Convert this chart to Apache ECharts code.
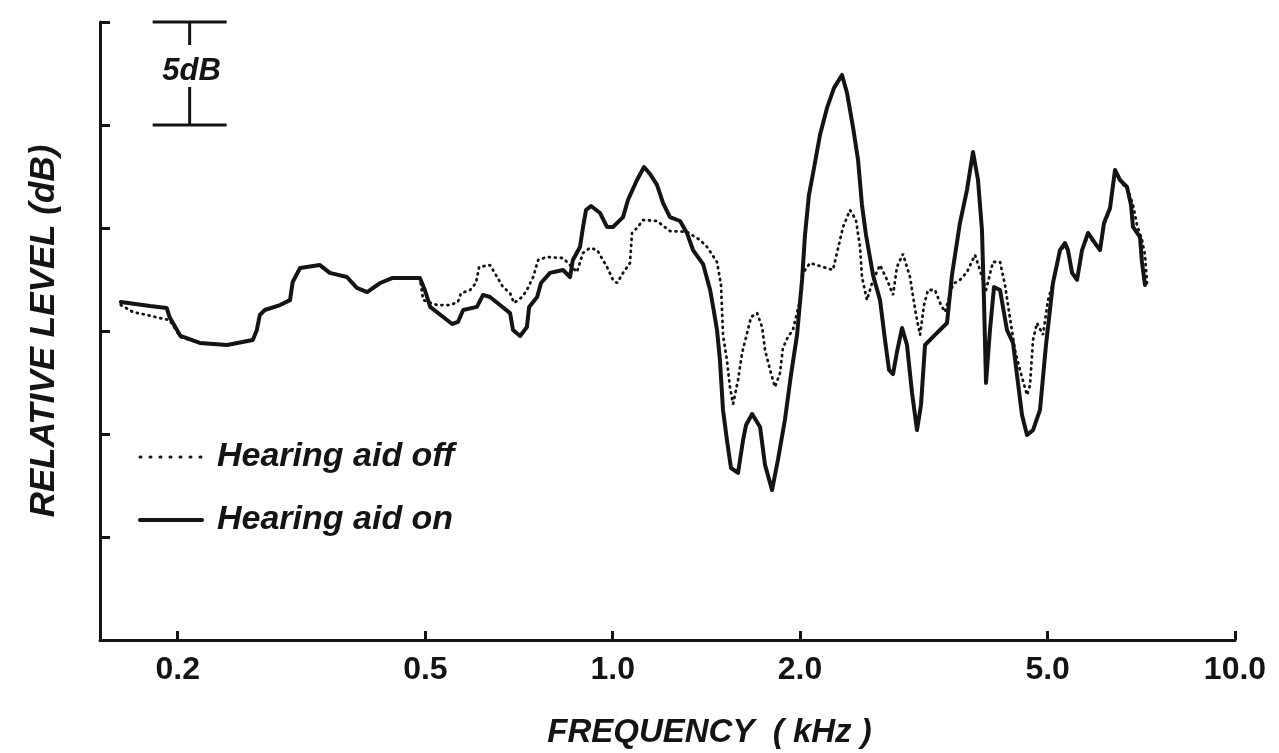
<!DOCTYPE html>
<html>
<head>
<meta charset="utf-8">
<script src="https://cdn.jsdelivr.net/npm/echarts@6/dist/echarts.min.js"></script>
<style>
  html, body { margin: 0; padding: 0; background: #fff; }
  #chart { width: 1279px; height: 753px; }
</style>
</head>
<body>
<div id="chart"></div>
<script>
// Frequency axis ticks (kHz) and their printed labels
const freqTicks = [0.2, 0.5, 1, 2, 5, 10];
const freqTickLabels = ['0.2', '0.5', '1.0', '2.0', '5.0', '10.0'];

// Relative level (dB) vs frequency (kHz), hearing aid switched off
const aidOff = [
  [0.162, 16.26], [0.1695, 15.92], [0.1785, 15.78], [0.187, 15.63], [0.194, 15.53],
  [0.202, 14.71], [0.217, 14.42], [0.240, 14.32], [0.264, 14.56], [0.268, 15.05],
  [0.271, 15.78], [0.276, 16.02], [0.292, 16.26], [0.303, 16.50], [0.306, 17.38],
  [0.3145, 18.06], [0.3385, 18.20], [0.351, 17.82], [0.374, 17.62], [0.388, 17.09],
  [0.403, 16.89], [0.423, 17.33], [0.442, 17.57], [0.490, 17.57], [0.496, 16.50],
  [0.522, 16.26], [0.548, 16.26], [0.564, 16.41], [0.5705, 16.84], [0.590, 16.99],
  [0.603, 17.33], [0.610, 18.11], [0.635, 18.20], [0.652, 17.62], [0.666, 17.14],
  [0.684, 16.84], [0.694, 16.36], [0.715, 16.65], [0.728, 16.99], [0.745, 17.62],
  [0.759, 18.45], [0.784, 18.59], [0.832, 18.54], [0.848, 18.30], [0.876, 17.86],
  [0.896, 18.79], [0.919, 19.03], [0.944, 18.93], [0.979, 18.11], [1.001, 17.48],
  [1.016, 17.33], [1.039, 17.82], [1.066, 18.30], [1.074, 19.76], [1.094, 20.00],
  [1.119, 20.39], [1.178, 20.34], [1.236, 19.85], [1.316, 19.81], [1.381, 19.42],
  [1.418, 19.08], [1.471, 18.35], [1.493, 17.23], [1.504, 14.81], [1.526, 13.59],
  [1.543, 12.28], [1.561, 11.46], [1.590, 12.62], [1.614, 13.93], [1.644, 14.90],
  [1.669, 15.68], [1.706, 15.87], [1.738, 15.19], [1.757, 14.08], [1.790, 13.11],
  [1.823, 12.28], [1.857, 12.96], [1.877, 14.17], [1.912, 14.71], [1.948, 15.05],
  [2.000, 16.50], [2.022, 17.82], [2.075, 18.30], [2.177, 18.11], [2.259, 17.96],
  [2.293, 18.79], [2.345, 20.05], [2.406, 20.87], [2.460, 20.39], [2.497, 19.08],
  [2.515, 17.62], [2.562, 16.50], [2.620, 17.48], [2.689, 18.20], [2.760, 17.48],
  [2.821, 16.75], [2.863, 18.11], [2.927, 18.74], [3.004, 17.62], [3.072, 15.78],
  [3.118, 14.81], [3.164, 16.26], [3.211, 16.99], [3.295, 16.99], [3.369, 16.26],
  [3.420, 15.92], [3.522, 17.28], [3.614, 17.48], [3.709, 17.86], [3.821, 18.69],
  [3.892, 17.96], [3.980, 16.99], [4.084, 18.35], [4.192, 18.35], [4.270, 17.23],
  [4.349, 15.63], [4.430, 14.08], [4.513, 13.11], [4.632, 11.89], [4.684, 12.38],
  [4.736, 14.56], [4.806, 15.39], [4.914, 14.81], [5.006, 16.50], [5.099, 17.33],
  [5.233, 18.83], [5.331, 19.17], [5.390, 18.83], [5.472, 17.86], [5.574, 17.57],
  [5.678, 18.93], [5.806, 19.66], [5.957, 19.22], [6.069, 18.93], [6.159, 20.15],
  [6.297, 20.87], [6.415, 22.72], [6.558, 22.23], [6.731, 21.84], [6.856, 21.12],
  [6.958, 20.15], [7.088, 19.42], [7.167, 18.69], [7.221, 17.33]
];

// Relative level (dB) vs frequency (kHz), hearing aid switched on
const aidOn = [
  [0.162, 16.41], [0.171, 16.31], [0.1805, 16.21], [0.192, 16.12], [0.194, 15.68],
  [0.202, 14.76], [0.217, 14.42], [0.240, 14.32], [0.264, 14.56], [0.268, 15.05],
  [0.271, 15.78], [0.276, 16.02], [0.292, 16.26], [0.303, 16.50], [0.306, 17.38],
  [0.3145, 18.06], [0.3385, 18.20], [0.351, 17.82], [0.374, 17.62], [0.388, 17.09],
  [0.403, 16.89], [0.423, 17.33], [0.442, 17.57], [0.490, 17.57], [0.499, 16.99],
  [0.509, 16.17], [0.534, 15.68], [0.552, 15.34], [0.564, 15.44], [0.575, 16.02],
  [0.605, 16.17], [0.619, 16.75], [0.635, 16.65], [0.659, 16.26], [0.684, 15.87],
  [0.6915, 15.05], [0.710, 14.76], [0.728, 15.19], [0.734, 16.17], [0.756, 16.65],
  [0.767, 17.33], [0.793, 17.82], [0.832, 17.96], [0.854, 17.62], [0.863, 18.45],
  [0.886, 19.08], [0.896, 20.05], [0.906, 20.87], [0.923, 21.07], [0.954, 20.73],
  [0.979, 20.05], [1.001, 20.05], [1.039, 20.53], [1.058, 21.36], [1.094, 22.33],
  [1.123, 22.96], [1.148, 22.62], [1.178, 22.09], [1.205, 21.21], [1.236, 20.53],
  [1.283, 20.34], [1.316, 19.76], [1.346, 18.93], [1.397, 18.25], [1.434, 16.99],
  [1.450, 16.17], [1.471, 15.05], [1.487, 13.59], [1.504, 11.17], [1.526, 9.71],
  [1.549, 8.35], [1.590, 8.11], [1.620, 9.71], [1.638, 10.44], [1.675, 10.97],
  [1.725, 10.34], [1.757, 8.50], [1.803, 7.28], [1.843, 8.74], [1.891, 10.68],
  [1.934, 12.86], [1.978, 14.81], [2.015, 17.48], [2.037, 19.66], [2.067, 21.60],
  [2.099, 22.67], [2.153, 24.51], [2.210, 25.83], [2.268, 26.80], [2.336, 27.43],
  [2.380, 26.55], [2.433, 24.90], [2.479, 23.30], [2.515, 21.12], [2.553, 19.66],
  [2.620, 17.72], [2.689, 16.50], [2.739, 14.56], [2.780, 13.11], [2.821, 12.91],
  [2.863, 13.98], [2.917, 15.15], [2.971, 14.32], [3.027, 11.99], [3.083, 10.19],
  [3.129, 11.41], [3.176, 14.32], [3.295, 14.81], [3.445, 15.39], [3.509, 17.72],
  [3.614, 20.24], [3.709, 21.84], [3.793, 23.69], [3.864, 22.33], [3.921, 19.90],
  [3.950, 16.50], [3.980, 12.48], [4.039, 15.05], [4.100, 17.14], [4.192, 16.99],
  [4.301, 15.05], [4.398, 14.42], [4.480, 12.48], [4.547, 10.92], [4.632, 9.95],
  [4.736, 10.19], [4.860, 11.17], [4.969, 14.32], [5.099, 17.33], [5.233, 18.93],
  [5.331, 19.27], [5.390, 18.93], [5.472, 17.82], [5.574, 17.48], [5.678, 18.93],
  [5.806, 19.76], [5.957, 19.27], [6.069, 18.93], [6.159, 20.24], [6.297, 20.97],
  [6.415, 22.82], [6.534, 22.33], [6.706, 21.99], [6.806, 21.12], [6.856, 20.05],
  [7.036, 19.56], [7.088, 18.35], [7.167, 17.23]
];

// 5 dB scale bar: [frequency where it stands, lower level, upper level]
const scaleBar = [[0.209, 25, 30]];

const INK = '#141414';
const FONT = '"Liberation Sans", Arial, Helvetica, sans-serif';

const chart = echarts.init(document.getElementById('chart'), null, { renderer: 'canvas' });

function tickLabel(v) {
  const i = freqTicks.findIndex(t => Math.abs(t - v) < 1e-6 * Math.max(1, t));
  return i >= 0 ? freqTickLabels[i] : '';
}

chart.setOption({
  animation: false,
  backgroundColor: '#ffffff',
  grid: { left: 100, right: 44, top: 22, bottom: 113, containLabel: false, outerBoundsMode: 'none' },
  legend: {
    orient: 'vertical',
    left: 133,
    top: 435,
    itemWidth: 62,
    itemHeight: 14,
    itemGap: 29,
    textStyle: {
      fontFamily: FONT, fontSize: 34, fontStyle: 'italic', fontWeight: 'bold',
      color: INK, lineHeight: 34, padding: [0, 0, 0, 10]
    },
    data: [
      {
        name: 'Hearing aid off',
        lineStyle: { type: [1, 9], width: 3, cap: 'round', color: INK },
        itemStyle: { opacity: 0 }
      },
      {
        name: 'Hearing aid on',
        lineStyle: { type: 'solid', width: 4, color: INK },
        itemStyle: { opacity: 0 }
      }
    ]
  },
  xAxis: {
    type: 'log',
    logBase: 10,
    min: 0.15,
    max: 10,
    name: 'FREQUENCY  ( kHz )',
    nameLocation: 'middle',
    nameGap: 76,
    nameTextStyle: {
      fontFamily: FONT, fontSize: 33, fontStyle: 'italic', fontWeight: 'bold',
      color: INK, padding: [0, 0, 0, 84]
    },
    axisLine: { show: true, lineStyle: { color: INK, width: 3 } },
    axisTick: { show: true, inside: true, length: 9, customValues: freqTicks, lineStyle: { color: INK, width: 3 } },
    axisLabel: {
      show: true, customValues: freqTicks, formatter: tickLabel, margin: 14,
      fontFamily: FONT, fontSize: 32, fontWeight: 'bold', color: INK
    },
    minorTick: { show: false },
    splitLine: { show: false }
  },
  yAxis: {
    type: 'value',
    min: 0,
    max: 30,
    interval: 5,
    name: 'RELATIVE LEVEL (dB)',
    nameLocation: 'middle',
    nameGap: 38,
    nameTextStyle: {
      fontFamily: FONT, fontSize: 35, fontStyle: 'italic', fontWeight: 'bold', color: INK
    },
    axisLine: { show: true, lineStyle: { color: INK, width: 3 } },
    axisTick: { show: true, inside: true, length: 10, lineStyle: { color: INK, width: 3 } },
    axisLabel: { show: false },
    splitLine: { show: false }
  },
  series: [
    {
      name: 'Hearing aid off',
      type: 'line',
      data: aidOff,
      symbol: 'none',
      lineStyle: { color: INK, width: 2.8, type: [1, 5], cap: 'round' },
      itemStyle: { color: INK },
      z: 2
    },
    {
      name: 'Hearing aid on',
      type: 'line',
      data: aidOn,
      symbol: 'none',
      lineStyle: { color: INK, width: 4, type: 'solid', join: 'round', cap: 'round' },
      itemStyle: { color: INK },
      z: 3
    },
    {
      name: 'scale',
      type: 'custom',
      data: scaleBar,
      silent: true,
      clip: false,
      renderItem: function (params, api) {
        const top = api.coord([api.value(0), api.value(2)]);
        const bot = api.coord([api.value(0), api.value(1)]);
        const half = 37;
        const line = (x1, y1, x2, y2) => ({
          type: 'line',
          shape: { x1, y1, x2, y2 },
          style: { stroke: INK, lineWidth: 3 }
        });
        return {
          type: 'group',
          children: [
            line(top[0] - half, top[1], top[0] + half, top[1]),
            line(top[0], top[1], top[0], top[1] + 23),
            line(bot[0], bot[1] - 38, bot[0], bot[1]),
            line(bot[0] - half, bot[1], bot[0] + half, bot[1]),
            {
              type: 'text',
              style: {
                text: '5dB',
                x: top[0] + 2,
                y: (top[1] + bot[1]) / 2 - 2,
                align: 'center',
                verticalAlign: 'middle',
                font: 'italic bold 31px ' + FONT,
                fill: INK
              }
            }
          ]
        };
      }
    }
  ]
});
</script>
</body>
</html>
